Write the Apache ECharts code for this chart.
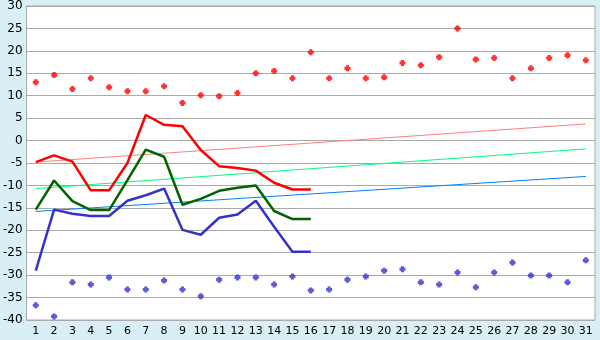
<!DOCTYPE html>
<html><head><meta charset="utf-8">
<script src="https://cdn.jsdelivr.net/npm/echarts@6/dist/echarts.min.js"></script>
<style>html,body{margin:0;padding:0;background:#d9eff6}#c{width:600px;height:340px}</style>
</head><body><div id="c"></div>
<script>
const categories = Array.from({length:31},(_,i)=>String(i+1));
const redPoints = [13.0,14.6,11.5,13.9,11.9,11.0,11.0,12.1,8.4,10.1,9.9,10.6,15.0,15.5,13.9,19.7,13.9,16.1,13.9,14.1,17.3,16.8,18.6,25.0,18.1,18.4,13.9,16.1,18.4,19.0,17.9];
const bluePoints = [-36.7,-39.2,-31.6,-32.1,-30.5,-33.2,-33.2,-31.2,-33.2,-34.7,-31.0,-30.5,-30.5,-32.1,-30.3,-33.4,-33.2,-31.0,-30.3,-29.0,-28.7,-31.6,-32.1,-29.4,-32.7,-29.4,-27.2,-30.1,-30.1,-31.6,-26.7];
const redLine = [-4.8,-3.3,-4.7,-11.1,-11.1,-5.0,5.7,3.5,3.2,-2.1,-5.7,-6.1,-6.7,-9.4,-10.9,-10.9];
const greenLine = [-15.4,-8.9,-13.5,-15.5,-15.5,-8.8,-2.0,-3.6,-14.3,-13.0,-11.2,-10.5,-10.0,-15.7,-17.5,-17.5];
const blueLine = [-29.0,-15.4,-16.3,-16.8,-16.8,-13.4,-12.2,-10.7,-19.9,-21.0,-17.2,-16.5,-13.4,-19.2,-24.8,-24.8];
const pinkTrend = [-4.8, 3.7];
const greenTrend = [-10.7, -1.85];
const blueTrend = [-15.8, -8.0];
const yTicks = {min:-40, max:30, interval:5};

const plus = 'path://M1.2,0H3.8V1.2H5V3.8H3.8V5H1.2V3.8H0V1.2H1.2Z';
const ends = arr => [[0, arr[0]], [categories.length-1, arr[1]]];
const font = 'DejaVu Sans';
const chart = echarts.init(document.getElementById('c'), null, {renderer:'canvas'});
chart.setOption({
  animation:false,
  backgroundColor:'#d9eff6',
  grid:{left:26, right:5, top:5, bottom:20, show:true, backgroundColor:'#fff', borderColor:'#aaaaaa', borderWidth:1},
  xAxis:{type:'category', data:categories, boundaryGap:true,
    axisLine:{lineStyle:{color:'#aaaaaa'}},
    axisTick:{alignWithLabel:true, length:5, lineStyle:{color:'#555'}},
    axisLabel:{color:'#000', fontFamily:font, fontSize:11, margin:6, interval:0},
    splitLine:{show:false}},
  yAxis:{type:'value', min:yTicks.min, max:yTicks.max, interval:yTicks.interval,
    axisLine:{show:true, lineStyle:{color:'#aaaaaa'}},
    axisTick:{show:false},
    axisLabel:{color:'#000', fontFamily:font, fontSize:12, margin:4},
    splitLine:{lineStyle:{color:'#aaaaaa', width:1}}},
  series:[
    {type:'line', data:ends(pinkTrend), symbol:'none', lineStyle:{color:'#ff8080', width:1}, z:2},
    {type:'line', data:ends(greenTrend), symbol:'none', lineStyle:{color:'#00ff80', width:1}, z:2},
    {type:'line', data:ends(blueTrend), symbol:'none', lineStyle:{color:'#0080ff', width:1}, z:2},
    {type:'line', data:redLine, symbol:'none', lineStyle:{color:'#ff0000', width:2.5}, z:3},
    {type:'line', data:greenLine, symbol:'none', lineStyle:{color:'#006400', width:2.5}, z:3},
    {type:'line', data:blueLine, symbol:'none', lineStyle:{color:'#3333cc', width:2.5}, z:3},
    {type:'scatter', data:redPoints, symbol:plus, symbolSize:6, itemStyle:{color:'#ff0000'}, z:4},
    {type:'scatter', data:bluePoints, symbol:plus, symbolSize:6, itemStyle:{color:'#3333cc'}, z:4}
  ]
});
</script></body></html>
